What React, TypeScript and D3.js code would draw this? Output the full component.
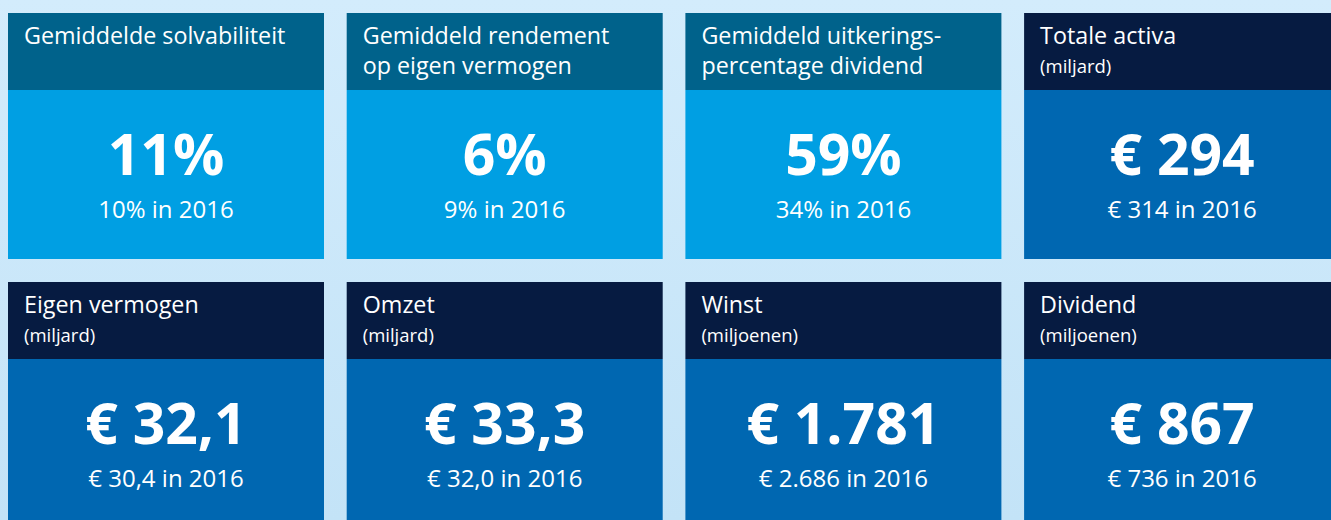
import React from "react";
import * as d3 from "d3";

const titles = [
  ["Gemiddelde solvabiliteit"],
  ["Gemiddeld rendement", "op eigen vermogen"],
  ["Gemiddeld uitkerings-", "percentage dividend"],
  ["Totale activa"],
  ["Eigen vermogen"],
  ["Omzet"],
  ["Winst"],
  ["Dividend"],
];
const units = ["", "", "", "(miljard)", "(miljard)", "(miljard)", "(miljoenen)", "(miljoenen)"];
const values = ["11%", "6%", "59%", "€ 294", "€ 32,1", "€ 33,3", "€ 1.781", "€ 867"];
const previous = ["10%", "9%", "34%", "€ 314", "€ 30,4", "€ 32,0", "€ 2.686", "€ 736"];
const kinds = ["light", "light", "light", "dark", "dark", "dark", "dark", "dark"];
const prevYear = "2016";

const W = 1331;
const H = 520;
const FONT = "'Open Sans', 'Noto Sans', sans-serif";

const palette: Record<string, { head: string; body: string }> = {
  light: { head: "#00628b", body: "#009fe3" },
  dark: { head: "#061b41", body: "#0067b1" },
};

export default function App() {
  const tileW = 316;
  const gapX = 22.7;
  const colX = (i: number) => 8 + i * (tileW + gapX);
  const rows = [13, 282];
  const headH = 77;
  const bodyH = 169;

  return (
    <svg width={W} height={H} style={{ position: "fixed", left: 0, top: 0, display: "block" }} fontFamily={FONT}>
      <defs>
        <linearGradient id="bg" x1="0" y1="0" x2="0" y2="1">
          <stop offset="0" stopColor="#d3ecfc" />
          <stop offset="1" stopColor="#c3e3f7" />
        </linearGradient>
      </defs>
      <rect x={0} y={0} width={W} height={H} fill="url(#bg)" />
      {values.map((v, i) => {
        const c = i % 4;
        const r = Math.floor(i / 4);
        const x = colX(c);
        const y = rows[r];
        const p = palette[kinds[i]];
        const cx = x + tileW / 2;
        const by = y + headH;
        return (
          <g key={i}>
            <rect x={x} y={y} width={tileW} height={headH} fill={p.head} />
            <rect x={x} y={by} width={tileW} height={bodyH} fill={p.body} />
            {titles[i].map((t, j) => (
              <text key={j} x={x + 16} y={y + 31 + j * 30} fill="#fff" fontSize={23.3}>
                {t}
              </text>
            ))}
            {units[i] && (
              <text x={x + 16} y={y + 60} fill="#fff" fontSize={18.5}>
                {units[i]}
              </text>
            )}
            <text x={cx} y={by + 85} fill="#fff" fontSize={57} fontWeight={700} textAnchor="middle">
              {v}
            </text>
            <text x={cx} y={by + 128} fill="#fff" fontSize={24} textAnchor="middle">
              {`${previous[i]} in ${prevYear}`}
            </text>
          </g>
        );
      })}
    </svg>
  );
}
